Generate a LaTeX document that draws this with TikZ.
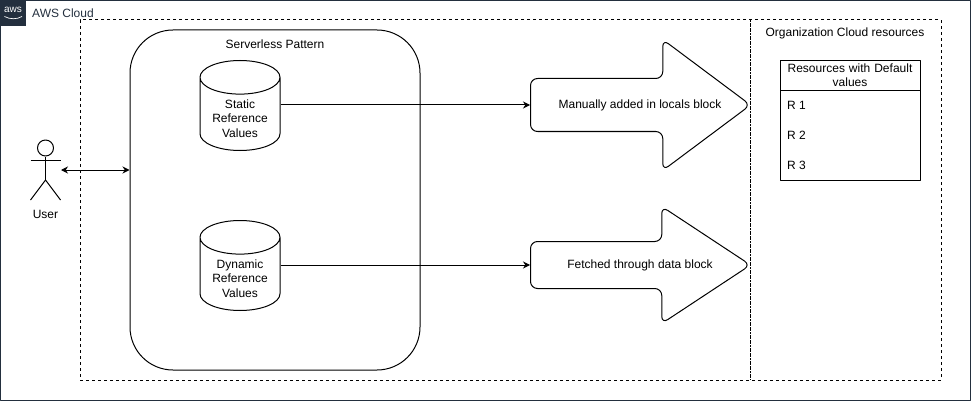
\documentclass[tikz,border=0pt]{standalone}
\usepackage{fontspec}
\setmainfont{Liberation Sans}
\usepackage{tikz}
\usetikzlibrary{arrows.meta, positioning}
\usetikzlibrary{shapes.geometric,shapes.arrows}
\definecolor{awsdark}{HTML}{232F3E}

\begin{document}
\begin{tikzpicture}[x=1pt, y=-1pt, line join=round, line cap=butt, font=\fontsize{12}{14.4}\selectfont]
   % Styles
   \tikzset{
    txt/.style={inner sep=0pt, align=center},
    boundary/.style={line width=1pt, dash pattern=on 3pt off 3pt},
    store/.style={draw, line width=1pt, cylinder, shape border rotate=90, aspect=0.42, inner xsep=40pt, inner ysep=0pt, minimum height=90pt, anchor=shape center},
    bigarrow/.style={draw, line width=1pt, single arrow, rounded corners=7pt, anchor=tail, inner xsep=0pt, inner ysep=#1, minimum height=220pt},
    cell/.style={draw, line width=1pt, minimum width=140pt, inner sep=0pt, outer sep=0pt, align=center, text width=138pt},
    row/.style={inner sep=0pt, anchor=west},
    link/.style={line width=1pt, -{Stealth[length=7pt,width=7pt]}},
    part/.style={line width=1pt}
   }
  \useasboundingbox (0,0) rectangle (971,401);
  % Cloud frame
  \node[draw=awsdark, line width=1.5pt, minimum width=970pt, minimum height=400pt, inner sep=0pt] (cloud) at (485.5,200.5) {};
  \node[fill=awsdark, minimum size=25.5pt, inner sep=0pt, anchor=north west] (logo) at (0,0) {};
  \node[txt, white, font=\fontsize{10}{10}\selectfont] (awstext) at (13,10) {aws};
  \coordinate (smilea) at (4.5,16.5);
  \coordinate (smileb) at (22,16.5);
  \draw[white, line width=0.7pt] (smilea) .. controls (10,19.5) and (17,19.5) .. (smileb);
  \node[txt, text=awsdark, anchor=west] (cloudlabel) at (32,13.5) {AWS Cloud};
  % Boundaries
  \node[draw, boundary, minimum width=861pt, minimum height=360pt, inner sep=0pt] (outer) at (510.5,200) {};
  \draw[line width=1pt, dash pattern=on 2pt off 0.6pt] (750,20) coordinate (splita) -- (750,380) coordinate (splitb);
  % Pattern box
  \node[draw, line width=1pt, rounded corners=43pt, minimum width=290pt, minimum height=340pt, inner sep=0pt] (pattern) at (275,200) {};
  \node[txt] (patternlabel) at (275,44.5) {Serverless Pattern};
  \node[store] (static) at (240,105.5) {};
  \node[txt] (staticlabel) at (240,118.5) {Static\\Reference\\Values};
  \node[store] (dynamic) at (240,265.5) {};
  \node[txt] (dynamiclabel) at (240,278.5) {Dynamic\\Reference\\Values};
  % Block arrows
  \node[bigarrow=26pt, single arrow head extend=39pt, single arrow tip angle=73.5] (manual) at (530,105) {};
  \node[txt] (manuallabel) at (640,105.5) {Manually added in locals block};
  \node[bigarrow=23pt, single arrow head extend=35pt, single arrow tip angle=66.8] (fetched) at (530,265) {};
  \node[txt] (fetchedlabel) at (640,265) {Fetched through data block};
  % Resources
  \node[txt] (orglabel) at (845,33.5) {Organization Cloud resources};
  \node[cell, minimum height=30pt] (defaults) at (850,75.5) {Resources with Default\\values};
  \node[cell, minimum height=90pt, below=0pt of defaults] (rlist) {};
  \node[row] (ra) at (787,105) {R 1};
  \node[row] (rb) at (787,135) {R 2};
  \node[row] (rc) at (787,165) {R 3};
  % User
  \node[draw, circle, line width=1pt, minimum size=16pt, inner sep=0pt] (head) at (45.5,148) {};
  \coordinate (hip) at (45.5,180);
  \coordinate (armleft) at (30.5,160);
  \coordinate (armright) at (60.5,160);
  \coordinate (footleft) at (30.5,200);
  \coordinate (footright) at (60.5,200);
  \coordinate (userside) at (61,170);
  \node[txt] (user) at (45.5,214) {User};
  \draw[part] (head)--(hip);
  \draw[part] (armleft)--(armright);
  \draw[part] (footleft)--(hip)--(footright);
  % Links
  \draw[link, {Stealth[length=7pt,width=7pt]}-{Stealth[length=7pt,width=7pt]}] (userside)--(pattern.west |- userside);
  \draw[link] (static.east |- manual.tail)--(manual.tail);
  \draw[link] (dynamic.east |- fetched.tail)--(fetched.tail);
\end{tikzpicture}
\end{document}
